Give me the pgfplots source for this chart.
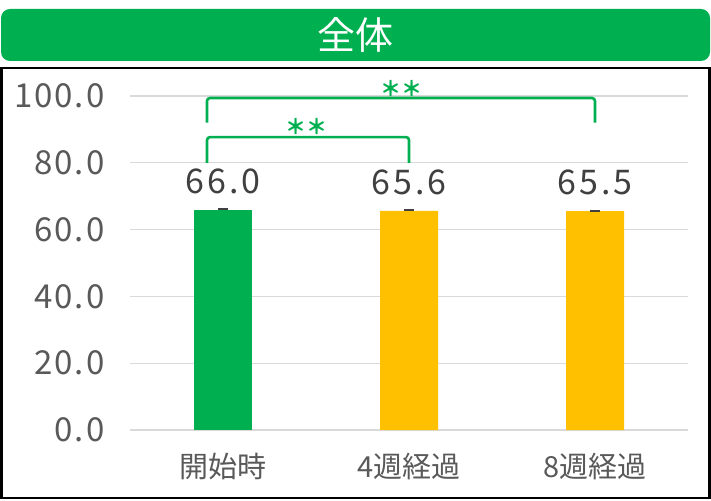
\documentclass[border=0pt]{standalone}
\usepackage{fontspec}
\setmainfont{Noto Sans CJK JP}
\newfontfamily\tickfont[LetterSpace=6]{Noto Sans CJK JP}
\newfontfamily\valfont[LetterSpace=9]{Noto Sans CJK JP}
\usepackage{pgfplots}
\pgfplotsset{compat=1.18}
\definecolor{barGreen}{HTML}{00B050}
\definecolor{barOrange}{HTML}{FFC000}
\definecolor{tickGray}{HTML}{595959}
\definecolor{gridGray}{HTML}{D9D9D9}
\definecolor{labelGray}{HTML}{404040}

\begin{document}
\begin{tikzpicture}[x=1pt,y=1pt]
\path[use as bounding box] (0,0) rectangle (711,500);
% title bar
\fill[barGreen, rounded corners=9pt] (1,439) rectangle (710,491);
\node[text=white, font=\fontsize{38}{44}\selectfont] at (355.5,465) {全体};
% frame
\draw[black, line width=2.2pt] (1.5,2) rectangle (709.5,432);
\begin{axis}[
  at={(130pt,70pt)}, anchor=south west,
  scale only axis, width=558pt, height=334pt,
  xmin=-0.5, xmax=2.5, ymin=0, ymax=100,
  clip=false,
  axis line style={draw=none},
  major tick length=0pt,
  ymajorgrids, grid style={gridGray, line width=1.3pt},
  ytick={0,20,40,60,80,100},
  yticklabel style={/pgf/number format/fixed, /pgf/number format/fixed zerofill,
    /pgf/number format/precision=1, text=tickGray,
    font=\tickfont\fontsize{33}{36}\selectfont, xshift=-22pt},
  /pgf/number format/assume math mode=true,
  xtick={0,1,2}, xticklabels={開始時,4週経過,8週経過},
  xticklabel style={text=tickGray, font=\fontsize{29}{32}\selectfont, yshift=-20pt},
  nodes near coords={\pgfmathprintnumber[fixed,fixed zerofill,precision=1]{\pgfplotspointmeta}},
  nodes near coords style={text=labelGray, font=\valfont\fontsize{34}{38}\selectfont, anchor=base, yshift=16.5pt},
]
\addplot[ybar, bar width=58pt, bar shift=0pt, fill=barGreen, draw=none,
  error bars/.cd, y dir=plus, y explicit,
  error bar style={draw=labelGray, line width=1.5pt},
  error mark options={rotate=90, mark size=5pt, line width=2pt, draw=labelGray}]
  coordinates {(0,66.0) +- (0,0.2)};
\addplot[ybar, bar width=58pt, bar shift=0pt, fill=barOrange, draw=none,
  error bars/.cd, y dir=plus, y explicit,
  error bar style={draw=labelGray, line width=1.5pt},
  error mark options={rotate=90, mark size=5pt, line width=2pt, draw=labelGray}]
  coordinates {(1,65.6) +- (0,0.2) (2,65.5) +- (0,0.2)};
% significance brackets
\addplot[barGreen, line width=2.6pt, rounded corners=3pt, no marks, nodes near coords={}, forget plot]
  coordinates {(-0.086,80) (-0.086,87.7) (1.0,87.7) (1.0,80)};
\addplot[barGreen, line width=2.6pt, rounded corners=3pt, no marks, nodes near coords={}, forget plot]
  coordinates {(-0.086,92) (-0.086,99.4) (2.0,99.4) (2.0,92)};
\node[text=barGreen, font=\bfseries\fontsize{21}{24}\selectfont] at (axis cs:0.45,90.8) {＊＊};
\node[text=barGreen, font=\bfseries\fontsize{21}{24}\selectfont] at (axis cs:0.96,102.2) {＊＊};
\end{axis}
\end{tikzpicture}
\end{document}
